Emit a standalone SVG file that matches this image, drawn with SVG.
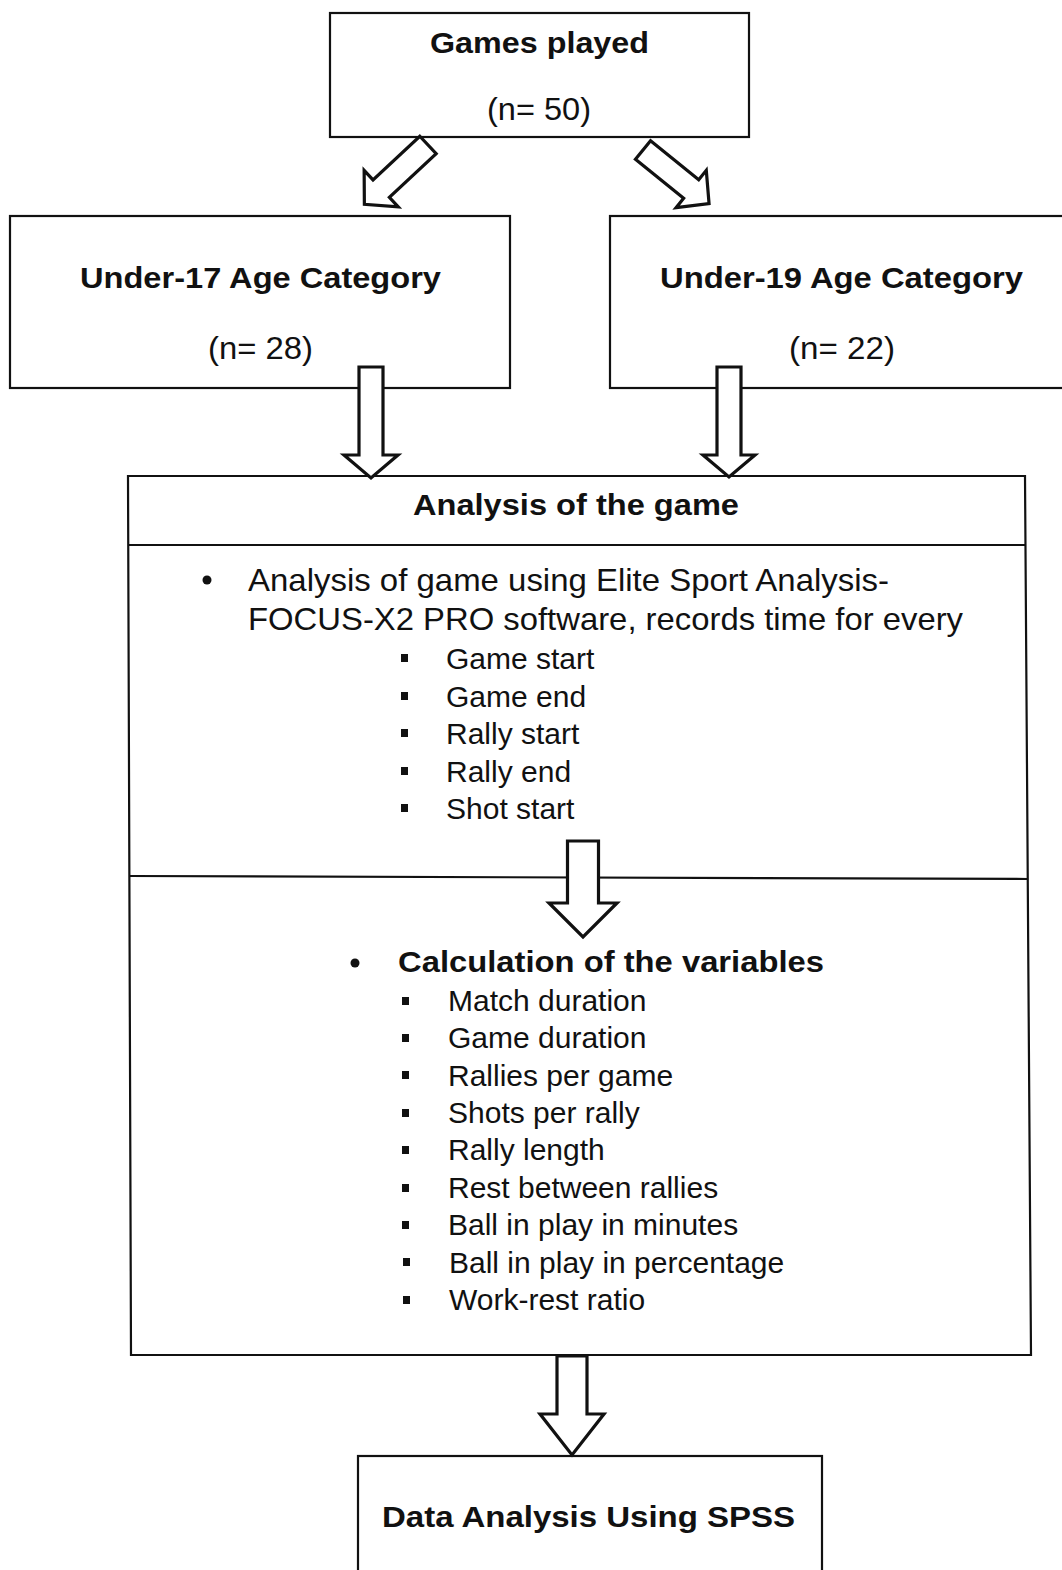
<svg xmlns="http://www.w3.org/2000/svg" width="1062" height="1570" viewBox="0 0 1062 1570">
<style>
.box{fill:#fff;stroke:#111;stroke-width:2.2}
.line{fill:none;stroke:#111;stroke-width:2.2}
.arrow{fill:#fff;stroke:#111;stroke-width:3.2;stroke-linejoin:miter}
.t{font-family:"Liberation Sans",Arial,sans-serif;fill:#111}
.h{font-weight:bold;font-size:30px}
.n{font-size:32px}
.i{font-size:30px}
.dot{fill:#111}
</style>
<rect x="0" y="0" width="1062" height="1570" fill="#fff"/>

<g id="games-played">
<rect class="box" x="330" y="13" width="419" height="124"/>
<text class="t h" x="430" y="53" textLength="219" lengthAdjust="spacingAndGlyphs">Games played</text>
<text class="t n" x="487" y="120" textLength="104" lengthAdjust="spacingAndGlyphs">(n= 50)</text>
</g>

<g id="under-17">
<rect class="box" x="10" y="216" width="500" height="172"/>
<text class="t h" x="80" y="288" textLength="361" lengthAdjust="spacingAndGlyphs">Under-17 Age Category</text>
<text class="t n" x="208" y="359" textLength="105" lengthAdjust="spacingAndGlyphs">(n= 28)</text>
</g>

<g id="under-19">
<rect class="box" x="610" y="216" width="470" height="172"/>
<text class="t h" x="660" y="288" textLength="363" lengthAdjust="spacingAndGlyphs">Under-19 Age Category</text>
<text class="t n" x="789" y="359" textLength="106" lengthAdjust="spacingAndGlyphs">(n= 22)</text>
</g>

<g id="analysis">
<path class="box" d="M128,476 L1025,476 L1031,1355 L131,1355 Z"/>
<path class="line" d="M128,545 L1025,545"/>
<path class="line" d="M129,876 L1028,879"/>
<text class="t h" x="413" y="515" textLength="326" lengthAdjust="spacingAndGlyphs">Analysis of the game</text>
<circle class="dot" cx="207" cy="580" r="4.5"/>
<text class="t n" x="248" y="591" textLength="641" lengthAdjust="spacingAndGlyphs">Analysis of game using Elite Sport Analysis-</text>
<text class="t n" x="248" y="630" textLength="715" lengthAdjust="spacingAndGlyphs">FOCUS-X2 PRO software, records time for every</text>
<rect class="dot" x="401" y="654" width="7" height="8"/>
<text class="t i" x="446" y="669">Game start</text>
<rect class="dot" x="401" y="692" width="7" height="8"/>
<text class="t i" x="446" y="706.5">Game end</text>
<rect class="dot" x="401" y="729" width="7" height="8"/>
<text class="t i" x="446" y="744">Rally start</text>
<rect class="dot" x="401" y="767" width="7" height="8"/>
<text class="t i" x="446" y="781.5">Rally end</text>
<rect class="dot" x="401" y="804" width="7" height="8"/>
<text class="t i" x="446" y="819">Shot start</text>

<circle class="dot" cx="355" cy="963" r="4.5"/>
<text class="t h" x="398" y="972" textLength="426" lengthAdjust="spacingAndGlyphs">Calculation of the variables</text>
<rect class="dot" x="402" y="997" width="7" height="8"/>
<text class="t i" x="448" y="1010.5">Match duration</text>
<rect class="dot" x="402" y="1034" width="7" height="8"/>
<text class="t i" x="448" y="1048">Game duration</text>
<rect class="dot" x="402" y="1071" width="7" height="8"/>
<text class="t i" x="448" y="1085.5">Rallies per game</text>
<rect class="dot" x="402" y="1109" width="7" height="8"/>
<text class="t i" x="448" y="1123">Shots per rally</text>
<rect class="dot" x="402" y="1146" width="7" height="8"/>
<text class="t i" x="448" y="1160">Rally length</text>
<rect class="dot" x="402" y="1184" width="7" height="8"/>
<text class="t i" x="448" y="1197.5">Rest between rallies</text>
<rect class="dot" x="402" y="1221" width="7" height="8"/>
<text class="t i" x="448" y="1235">Ball in play in minutes</text>
<rect class="dot" x="403" y="1258" width="7" height="8"/>
<text class="t i" x="449" y="1272.5">Ball in play in percentage</text>
<rect class="dot" x="403" y="1296" width="7" height="8"/>
<text class="t i" x="449" y="1310">Work-rest ratio</text>
</g>

<g id="spss">
<rect class="box" x="358" y="1456" width="464" height="130"/>
<text class="t h" x="382" y="1527" textLength="413" lengthAdjust="spacingAndGlyphs">Data Analysis Using SPSS</text>
</g>

<g id="connectors">
<path class="arrow" transform="translate(428,145) rotate(47)" d="M-12,0 L12,0 L12,64 L25,64 L0,87 L-25,64 L-12,64 Z"/>
<path class="arrow" transform="translate(643,150) rotate(-51)" d="M-12,0 L12,0 L12,62 L24,62 L0,85 L-24,62 L-12,62 Z"/>
<path class="arrow" transform="translate(371,367)" d="M-12,0 L12,0 L12,88 L27,88 L0,111 L-27,88 L-12,88 Z"/>
<path class="arrow" transform="translate(729,367)" d="M-12,0 L12,0 L12,88 L26,88 L0,110 L-26,88 L-12,88 Z"/>
<path class="arrow" transform="translate(583,841)" d="M-15.5,0 L15.5,0 L15.5,62 L34,62 L0,96 L-34,62 L-15.5,62 Z"/>
<path class="arrow" transform="translate(572,1356)" d="M-15,0 L15,0 L15,58 L32,58 L0,99 L-32,58 L-15,58 Z"/>
</g>
</svg>
